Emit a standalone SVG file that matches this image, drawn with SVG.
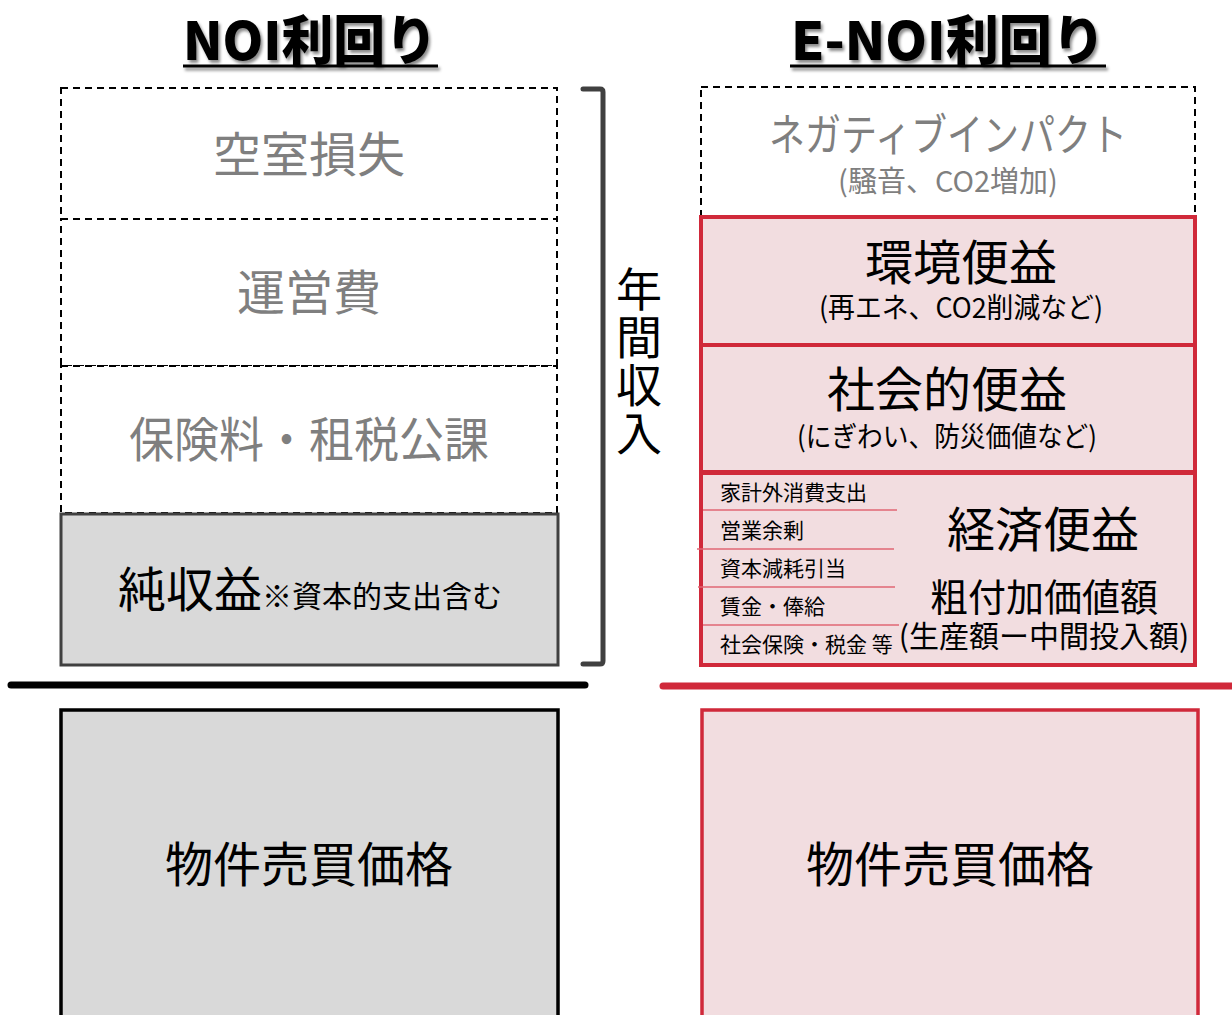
<svg xmlns="http://www.w3.org/2000/svg" width="1232" height="1015" viewBox="0 0 1232 1015">
<defs>
<filter id="sh" x="-10%" y="-10%" width="130%" height="140%">
<feDropShadow dx="2" dy="3" stdDeviation="1.5" flood-color="#000" flood-opacity="0.45"/>
</filter>
</defs>
<style>
text{font-family:"Noto Sans CJK JP","Noto Sans",sans-serif;text-anchor:middle;}
.title{font-size:53px;font-weight:900;fill:#000;}
.big{font-size:48px;fill:#000;}
.gray{fill:#7f7f7f;}
.sub{font-size:28px;fill:#000;}
.item{font-size:21px;fill:#000;text-anchor:start;}
.dash{fill:#fff;stroke:#000;stroke-width:2;stroke-dasharray:7 5;}
.pink{fill:#f2dde0;stroke:#d0293a;stroke-width:4;}
.thin{stroke:#e06674;stroke-width:1.5;}
</style>
<rect width="1232" height="1015" fill="#fff"/>

<g id="title-noi" filter="url(#sh)">
<text class="title" x="310" y="60" textLength="254" lengthAdjust="spacingAndGlyphs">NOI利回り</text>
<line x1="183" y1="66" x2="438" y2="66" stroke="#000" stroke-width="3"/>
</g>
<g id="title-enoi" filter="url(#sh)">
<text class="title" x="948" y="60" textLength="314" lengthAdjust="spacingAndGlyphs">E-NOI利回り</text>
<line x1="790" y1="66" x2="1106" y2="66" stroke="#000" stroke-width="3"/>
</g>

<g id="vacancy">
<rect class="dash" x="61" y="88" width="496" height="131"/>
<text class="big gray" x="309" y="172">空室損失</text>
</g>
<g id="opex">
<rect class="dash" x="61" y="219" width="496" height="147"/>
<text class="big gray" x="309" y="310">運営費</text>
</g>
<g id="insurance">
<rect class="dash" x="61" y="366" width="496" height="147"/>
<text class="big gray" x="309" y="457" textLength="360" lengthAdjust="spacingAndGlyphs">保険料・租税公課</text>
</g>
<g id="net-income">
<rect x="61" y="514" width="497" height="151" fill="#d9d9d9" stroke="#404040" stroke-width="3"/>
<text x="310" y="607"><tspan font-size="48">純収益</tspan><tspan font-size="30">※資本的支出含む</tspan></text>
</g>

<g id="annual-income">
<path d="M583 89 H600 Q603 89 603 92 V661 Q603 664 600 664 H583" fill="none" stroke="#404040" stroke-width="5" stroke-linecap="round" stroke-linejoin="round"/>
<text x="639" y="266" font-size="46" fill="#000" style="writing-mode:vertical-rl;text-anchor:start;letter-spacing:2px">年間収入</text>
</g>

<g id="price-left">
<rect x="61" y="710" width="497" height="320" fill="#d9d9d9" stroke="#000" stroke-width="3.5"/>
<text class="big" x="309" y="882">物件売買価格</text>
</g>

<g id="negative">
<rect class="dash" x="701" y="87" width="494" height="129"/>
<text class="gray" font-size="44" x="948" y="151" textLength="358" lengthAdjust="spacingAndGlyphs">ネガティブインパクト</text>
<text class="gray" font-size="29" x="948" y="192">(騒音、CO2増加)</text>
</g>
<g id="env">
<rect class="pink" x="701" y="217" width="494" height="128"/>
<text class="big" x="961" y="280">環境便益</text>
<text class="sub" x="961" y="318" textLength="284" lengthAdjust="spacingAndGlyphs">(再エネ、CO2削減など)</text>
</g>
<g id="social">
<rect class="pink" x="701" y="345" width="494" height="127"/>
<text class="big" x="947" y="407">社会的便益</text>
<text class="sub" x="947" y="447" textLength="300" lengthAdjust="spacingAndGlyphs">(にぎわい、防災価値など)</text>
</g>
<g id="econ">
<rect class="pink" x="701" y="473" width="494" height="192"/>
<text class="big" x="1043" y="547">経済便益</text>
<text font-size="38" x="1044" y="611">粗付加価値額</text>
<text font-size="30" x="1044" y="647">(生産額ー中間投入額)</text>
<text class="item" x="720" y="500">家計外消費支出</text>
<text class="item" x="720" y="538">営業余剰</text>
<text class="item" x="720" y="576">資本減耗引当</text>
<text class="item" x="720" y="614">賃金・俸給</text>
<text class="item" x="720" y="652">社会保険・税金 等</text>
<line class="thin" x1="703" y1="510" x2="897" y2="510"/>
<line class="thin" x1="697" y1="549" x2="894" y2="549"/>
<line class="thin" x1="698" y1="587" x2="895" y2="587"/>
<line class="thin" x1="703" y1="625" x2="899" y2="625"/>
</g>

<g id="price-right">
<rect x="702" y="710" width="496" height="320" fill="#f2dde0" stroke="#d0293a" stroke-width="3.5"/>
<text class="big" x="950" y="882">物件売買価格</text>
</g>

<g id="connectors">
<line x1="11" y1="685" x2="585" y2="685" stroke="#000" stroke-width="7" stroke-linecap="round"/>
<line x1="663" y1="686" x2="1240" y2="686" stroke="#d0293a" stroke-width="7" stroke-linecap="round"/>
</g>
</svg>
